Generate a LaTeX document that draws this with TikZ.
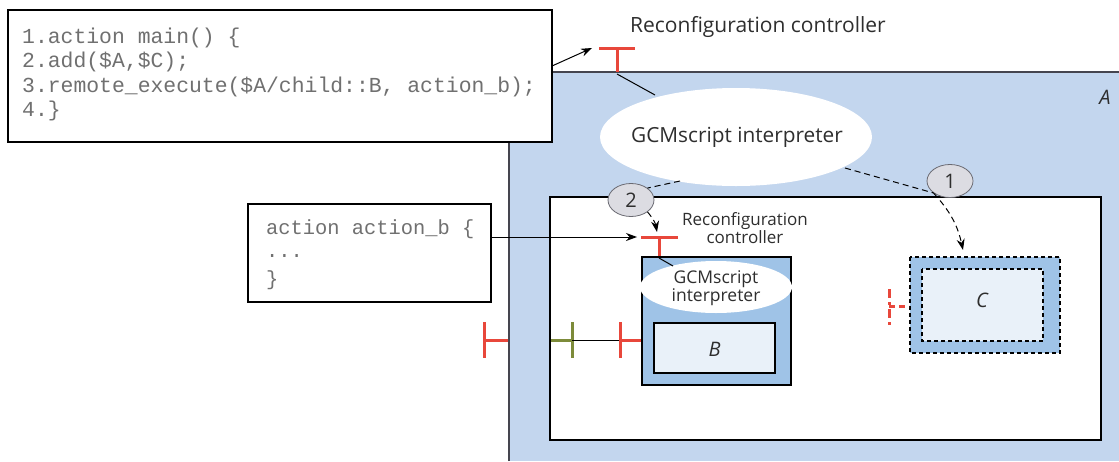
\documentclass[tikz,border=0pt]{standalone}
\usepackage{fontspec}
\setmainfont{Open Sans}
\newfontfamily\codefont{Liberation Mono}
\usetikzlibrary{shapes.geometric,arrows.meta}
\definecolor{afill}{HTML}{C3D6EE}
\definecolor{bfill}{HTML}{9FC3E7}
\definecolor{infill}{HTML}{E9F1F9}
\definecolor{rc}{HTML}{E8473B}
\definecolor{gc}{HTML}{7D8B3A}
\definecolor{edge}{HTML}{45454F}
\definecolor{numfill}{HTML}{DCDCE2}
\definecolor{codegray}{HTML}{707070}
\begin{document}
\begin{tikzpicture}[x=1pt,y=-1pt,
  codebox/.style={draw=black,line width=1.1pt,fill=white,inner sep=0pt},
  codetext/.style={anchor=west,font=\codefont\fontsize{21.4}{22}\selectfont,text=codegray,inner sep=0pt},
  ell/.style={ellipse,fill=white,inner sep=0pt},
  lbl/.style={font=\fontsize{21}{24}\selectfont,text=black!82,inner sep=0pt},
  num/.style={ellipse,draw=edge!80,fill=numfill,line width=0.8pt,minimum width=46pt,minimum height=33pt,inner sep=0pt,font=\fontsize{20}{20}\selectfont,text=black!82},
  ctrl/.style={draw=rc,line width=3pt},
  arr/.style={-{Stealth[length=11pt,width=8pt]},line width=1pt},
  darr/.style={-{Stealth[length=11pt,width=8pt]},line width=1pt,dash pattern=on 6pt off 4pt},
  dline/.style={line width=1pt,dash pattern=on 6pt off 4pt}
]
\useasboundingbox (0,0) rectangle (1119,461);
% A container
\fill[afill] (509,72) rectangle (1119,461);
\draw[edge,line width=1.3pt] (509,461) -- (509,72) -- (1119,72);
\node[lbl,font=\itshape\fontsize{20}{20}\selectfont] (alabel) at (1105,97) {A};
% inner white box
\draw[fill=white,line width=1.2pt] (550,197) rectangle (1101,440);
% top controller
\draw[ctrl] (599,48) -- (635,48);
\draw[ctrl] (617,48) -- (617,72);
\node[lbl,anchor=west] (tctext) at (630,27) {Reconfiguration controller};
% top ellipse
\node[ell,minimum width=272pt,minimum height=98pt] (gi) at (736,137) {};
\node[lbl,font=\fontsize{20.8}{24}\selectfont] (gitext) at (737,137) {GCMscript interpreter};
\coordinate (tcb) at (617,74);
\coordinate (gitop) at (655,95);
\draw[line width=1pt] (tcb) -- (gitop);
% code box 1
\node[codebox,minimum width=544pt,minimum height=132pt] (code1) at (280,76) {};
\node[codetext] (c1a) at (22,38) {1.action main() \{};
\node[codetext] (c1b) at (22,62) {2.add(\$A,\$C);};
\node[codetext] (c1c) at (22,87) {3.remote\_execute(\$A/child::B, action\_b);};
\node[codetext] (c1d) at (22,111) {4.\}};
\coordinate (a1s) at (552,66);
\coordinate (a1e) at (592,48);
\draw[arr] (a1s) -- (a1e);
% code box 2
\node[codebox,minimum width=243pt,minimum height=98pt] (code2) at (369.5,253) {};
\node[codetext,font=\codefont\fontsize{20.4}{22}\selectfont] (c2a) at (266,229) {action action\_b \{};
\node[codetext,font=\codefont\fontsize{20.4}{22}\selectfont] (c2b) at (266,256) {...};
\node[codetext,font=\codefont\fontsize{20.4}{22}\selectfont] (c2c) at (266,280) {\}};
\coordinate (a2s) at (491,237);
\coordinate (a2e) at (637,237);
\draw[arr] (a2s) -- (a2e);
% B controller
\draw[ctrl] (641,237) -- (678,237);
\draw[ctrl] (659,237) -- (659,258);
\node[lbl,font=\fontsize{17}{18}\selectfont,align=center] (bctext) at (745,228) {Reconfiguration\\controller};
% B component
\draw[fill=bfill,line width=1.1pt] (642,257) rectangle (791,385);
\node[ell,minimum width=152pt,minimum height=52pt] (bgi) at (716,287) {};
\node[lbl,font=\fontsize{17.5}{17}\selectfont,align=center] (bgitext) at (716,288) {GCMscript\\interpreter};
\coordinate (bcb) at (659,258);
\coordinate (bgitop) at (673,266);
\draw[line width=1pt] (bcb) -- (bgitop);
\node[draw,line width=1.1pt,fill=infill,minimum width=121pt,minimum height=50pt,inner sep=0pt] (binner) at (714.5,348) {};
\node[lbl,font=\itshape\fontsize{20}{20}\selectfont] (blabel) at (714.5,349) {B};
% bindings
\draw[ctrl] (484,322) -- (484,358);
\draw[ctrl] (484,340) -- (508,340);
\draw[gc,line width=3pt] (551,340) -- (572,340);
\draw[gc,line width=3pt] (572,322) -- (572,358);
\coordinate (g1) at (572,340);
\coordinate (r1) at (620,340);
\draw[line width=1pt] (g1) -- (r1);
\draw[ctrl] (620,322) -- (620,358);
\draw[ctrl] (620,340) -- (641,340);
% C component
\draw[fill=bfill,line width=1.1pt,dash pattern=on 4pt off 3pt] (910,257) rectangle (1060,353);
\draw[fill=infill,line width=1.1pt,dash pattern=on 4pt off 3pt] (922,269) rectangle (1043,341);
\node[lbl,font=\itshape\fontsize{20}{20}\selectfont] (clabel) at (982,300) {C};
\draw[rc,line width=3pt,dash pattern=on 6pt off 4pt] (889,306) -- (909,306);
\draw[rc,line width=3pt,dash pattern=on 9pt off 4pt on 3pt off 4pt] (889,289) -- (889,325);
% numbered steps
\node[num] (n2) at (631,200) {2};
\node[num] (n1) at (950,181) {1};
\coordinate (gi2) at (680,181);
\coordinate (gi1) at (845,168);
\coordinate (t2) at (657,232);
\coordinate (t1) at (963,250);
\draw[dline] (gi2) -- (n2.north east);
\draw[darr] (n2.south east) to[bend left=15] (t2);
\draw[dline] (gi1) -- (n1.south west);
\draw[darr] (n1.south west) to[bend left=15] (t1);
\end{tikzpicture}
\end{document}
